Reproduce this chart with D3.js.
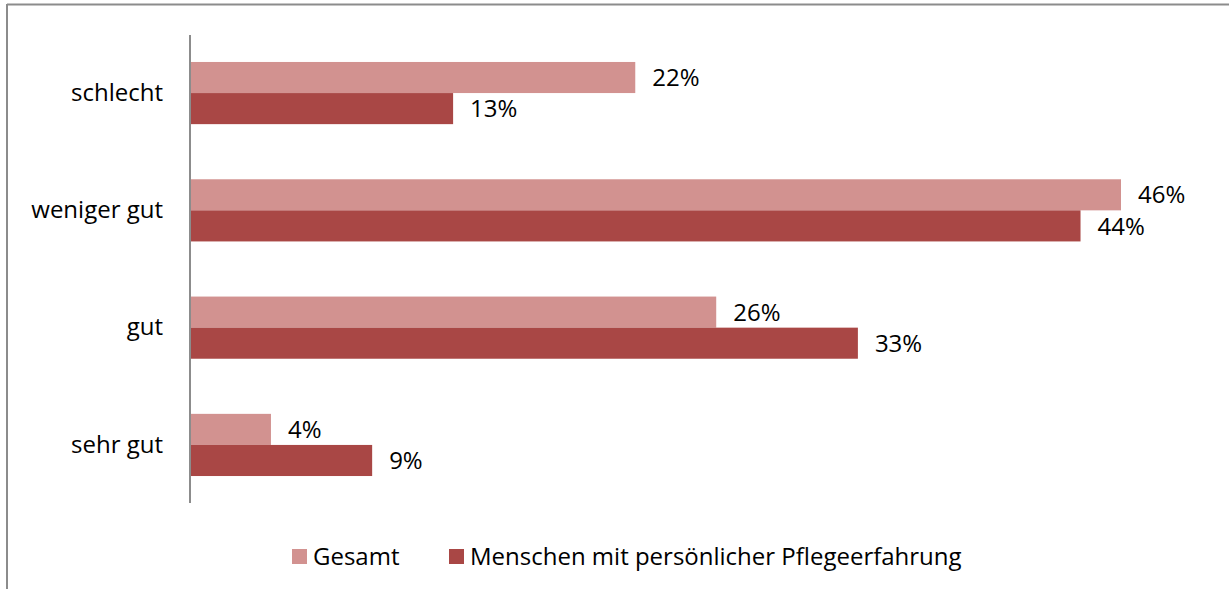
<!DOCTYPE html>
<html>
<head>
<meta charset="utf-8">
<script src="https://cdn.jsdelivr.net/npm/d3@7"></script>
<style>
  body { margin: 0; background: #fff; }
  svg text { font-family: "Open Sans", sans-serif; fill: #000; }
</style>
</head>
<body>
<script>
var categories = ["schlecht", "weniger gut", "gut", "sehr gut"];
var seriesNames = ["Gesamt", "Menschen mit persönlicher Pflegeerfahrung"];
var gesamt = [22, 46, 26, 4];
var pflege = [13, 44, 33, 9];
var colors = ["#d29290", "#a94745"];

var width = 1229, height = 589;

var svg = d3.select("body").append("svg")
  .attr("width", width)
  .attr("height", height);

// outer frame (only top and left edges visible)
svg.append("line").attr("x1", 7).attr("x2", width).attr("y1", 4.5).attr("y2", 4.5)
  .attr("stroke", "#8c8c8c").attr("stroke-width", 2);
svg.append("line").attr("x1", 7).attr("x2", 7).attr("y1", 4).attr("y2", height)
  .attr("stroke", "#8c8c8c").attr("stroke-width", 2);

var x = d3.scaleLinear().domain([0, 46]).range([190, 1121]);

var y = d3.scaleBand()
  .domain(categories)
  .range([35, 503])
  .paddingInner(0.47)
  .paddingOuter(0.23);

var inner = d3.scaleBand()
  .domain([0, 1])
  .range([0, y.bandwidth()]);

var rows = categories.map(function (c, i) {
  return { cat: c, values: [gesamt[i], pflege[i]] };
});

var group = svg.selectAll(".row")
  .data(rows)
  .enter().append("g")
  .attr("class", "row")
  .attr("transform", function (d) { return "translate(0," + y(d.cat) + ")"; });

group.selectAll("rect")
  .data(function (d) { return d.values; })
  .enter().append("rect")
  .attr("x", x(0))
  .attr("y", function (d, i) { return inner(i); })
  .attr("width", function (d) { return x(d) - x(0); })
  .attr("height", inner.bandwidth())
  .attr("fill", function (d, i) { return colors[i]; });

group.selectAll("text.val")
  .data(function (d) { return d.values; })
  .enter().append("text")
  .attr("class", "val")
  .attr("x", function (d) { return x(d) + 17; })
  .attr("y", function (d, i) { return inner(i) + inner.bandwidth() / 2; })
  .attr("dy", "0.36em")
  .style("font-size", "24px")
  .text(function (d) { return d + "%"; });

// category axis
var yAxis = d3.axisLeft(y).tickSize(0).tickPadding(27);
var ax = svg.append("g")
  .attr("transform", "translate(" + x(0) + ",0)")
  .call(yAxis);
ax.select(".domain").attr("stroke", "#8c8c8c").attr("stroke-width", 2)
  .attr("d", "M0,35V503");
ax.selectAll("text").style("font-size", "24px").attr("fill", "#000")
  .attr("font-family", null);

// legend
var legendX = [292, 449];
var legend = svg.selectAll(".legend")
  .data(seriesNames)
  .enter().append("g")
  .attr("class", "legend")
  .attr("transform", function (d, i) { return "translate(" + legendX[i] + ",549)"; });

legend.append("rect")
  .attr("width", 15).attr("height", 15)
  .attr("fill", function (d, i) { return colors[i]; });

legend.append("text")
  .attr("x", 21).attr("y", 7.5).attr("dy", "0.36em")
  .style("font-size", "24px")
  .text(function (d) { return d; });
</script>
</body>
</html>
